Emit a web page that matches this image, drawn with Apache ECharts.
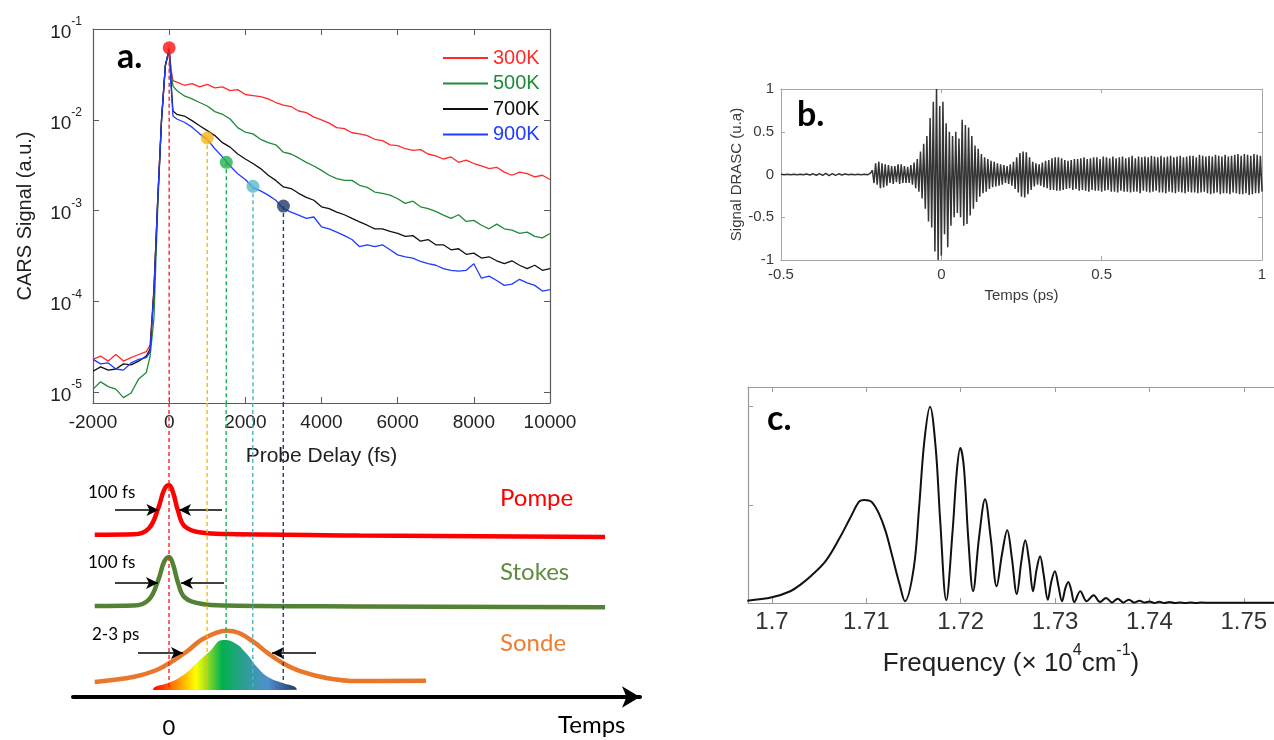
<!DOCTYPE html>
<html><head><meta charset="utf-8">
<script src="https://cdn.jsdelivr.net/npm/echarts@6/dist/echarts.min.js"></script>
<style>html,body{margin:0;padding:0;background:#fff}#c{width:1274px;height:740px}</style>
</head><body><div id="c"></div>
<script>
// ---------- Panel a : CARS signal vs probe delay ----------
const aDelay = [-2000,-1800,-1600,-1400,-1200,-1000,-800,-600,-500,-400,-300,-200,-100,0,50,100,
200,400,600,800,1000,1200,1400,1600,1800,2000,2200,2400,2600,2800,3000,3200,3400,3600,3800,4000,
4200,4400,4600,4800,5000,5200,5400,5600,5800,6000,6200,6400,6600,6800,7000,7200,7400,7600,7800,8000,
8200,8400,8600,8800,9000,9200,9400,9600,9800,10000];
const a300K = [2.3e-5,2.5e-5,2.2e-5,2.6e-5,2.2e-5,2.4e-5,2.6e-5,2.8e-5,3.3e-5,1.4e-4,1.35e-3,1.02e-2,3.9e-2,6.2e-2,3.6e-2,2.7e-2,
2.6e-2,2.4e-2,2.5e-2,2.3e-2,2.45e-2,2.25e-2,2.3e-2,2.1e-2,2.15e-2,1.9e-2,
1.85e-2,1.8e-2,1.7e-2,1.55e-2,1.45e-2,1.4e-2,1.25e-2,1.2e-2,1.07e-2,1.0e-2,
9.2e-3,8.2e-3,8.0e-3,7.2e-3,7.0e-3,6.7e-3,6.1e-3,5.9e-3,5.3e-3,5.2e-3,
4.8e-3,4.6e-3,4.7e-3,4.2e-3,4.0e-3,3.7e-3,3.9e-3,3.4e-3,3.6e-3,3.3e-3,
3.1e-3,2.9e-3,3.0e-3,2.65e-3,2.45e-3,2.65e-3,2.55e-3,2.35e-3,2.45e-3,2.2e-3];
const a500K = [1.08e-5,1.3e-5,1.15e-5,1.08e-5,8.7e-6,9.8e-6,1.4e-5,1.65e-5,2.5e-5,6.5e-5,1.1e-3,1.0e-2,3.9e-2,5.9e-2,3.4e-2,2.35e-2,
2.1e-2,1.83e-2,1.7e-2,1.55e-2,1.42e-2,1.23e-2,1.15e-2,1.02e-2,8.2e-3,7.3e-3,
7.0e-3,6.1e-3,5.6e-3,5.3e-3,4.4e-3,4.2e-3,3.8e-3,3.4e-3,3.1e-3,2.77e-3,
2.45e-3,2.25e-3,2.15e-3,2.15e-3,1.9e-3,1.8e-3,1.6e-3,1.55e-3,1.48e-3,1.35e-3,
1.2e-3,1.27e-3,1.1e-3,1.05e-3,9.8e-4,8.9e-4,8.2e-4,9.0e-4,7.6e-4,7.8e-4,
6.9e-4,6.3e-4,7.1e-4,6.3e-4,6.1e-4,5.6e-4,5.8e-4,5.2e-4,5.0e-4,5.6e-4];
const a700K = [1.7e-5,1.9e-5,1.75e-5,1.8e-5,2.05e-5,2.0e-5,2.2e-5,2.5e-5,3.0e-5,1.3e-4,1.3e-3,1.0e-2,4.0e-2,5.9e-2,2.6e-2,1.25e-2,
1.15e-2,1.1e-2,9.8e-3,8.6e-3,7.6e-3,6.7e-3,5.6e-3,5.0e-3,4.2e-3,3.7e-3,
3.3e-3,2.9e-3,2.45e-3,2.15e-3,1.82e-3,1.75e-3,1.55e-3,1.4e-3,1.3e-3,1.1e-3,
1.05e-3,9.6e-4,9.0e-4,8.2e-4,7.5e-4,6.9e-4,6.3e-4,6.3e-4,5.9e-4,5.6e-4,
5.2e-4,5.3e-4,4.6e-4,4.8e-4,4.2e-4,4.2e-4,3.7e-4,3.8e-4,3.3e-4,3.4e-4,
3.0e-4,3.1e-4,2.8e-4,2.6e-4,2.8e-4,2.5e-4,2.3e-4,2.5e-4,2.2e-4,2.3e-4];
const a900K = [2.3e-5,2.05e-5,2.1e-5,1.8e-5,1.75e-5,2.1e-5,2.3e-5,2.4e-5,2.8e-5,1.3e-4,1.35e-3,1.0e-2,4.0e-2,5.9e-2,2.35e-2,1.1e-2,
1.02e-2,9.4e-3,8.3e-3,7.0e-3,6.1e-3,4.8e-3,3.9e-3,3.1e-3,2.55e-3,2.2e-3,
1.8e-3,1.65e-3,1.48e-3,1.3e-3,1.05e-3,9.6e-4,8.9e-4,8.2e-4,8.5e-4,6.6e-4,
6.3e-4,5.8e-4,5.3e-4,4.8e-4,4.0e-4,4.2e-4,4.0e-4,4.2e-4,3.7e-4,3.25e-4,
3.1e-4,3.0e-4,2.75e-4,2.6e-4,2.5e-4,2.3e-4,2.2e-4,2.15e-4,2.2e-4,2.6e-4,
1.8e-4,1.9e-4,1.7e-4,1.5e-4,1.55e-4,1.75e-4,1.6e-4,1.5e-4,1.3e-4,1.35e-4];
const aSeriesNames = ['300K','500K','700K','900K'];
const markerDelay = [0,1000,1500,2200,3000];
const markerSignal = [6.2e-2,6.3e-3,3.4e-3,1.85e-3,1.12e-3];
const dashEnd = [0.32,0.32,0.32,0.32,0.7];

// ---------- Panel b : DRASC signal vs time ----------
const bTime = [-0.5,-0.49,-0.48,-0.47,-0.46,-0.45,-0.44,-0.43,-0.42,-0.41,-0.4,-0.39,-0.38,-0.37,-0.36,-0.35,-0.34,-0.33,-0.32,-0.31,-0.3,-0.29,-0.28,-0.27,-0.26,-0.25,-0.24,-0.23,-0.22,
-0.215,-0.21,-0.205,-0.2,-0.195,-0.19,-0.185,-0.18,-0.175,-0.17,
-0.165,-0.16,-0.155,-0.15,-0.145,-0.14,-0.135,-0.13,-0.125,-0.12,
-0.115,-0.11,-0.105,-0.1,-0.095,-0.09,-0.085,-0.08,-0.075,-0.07,
-0.065,-0.06,-0.055,-0.05,-0.045,-0.04,-0.035,-0.03,-0.025,-0.02,
-0.015,-0.01,-0.005,0,0.005,0.01,0.015,0.02,0.025,0.03,
0.035,0.04,0.045,0.05,0.055,0.06,0.065,0.07,0.075,0.08,
0.085,0.09,0.095,0.1,0.105,0.11,0.115,0.12,0.125,0.13,
0.135,0.14,0.145,0.15,0.155,0.16,0.165,0.17,0.175,0.18,
0.185,0.19,0.195,0.2,0.205,0.21,0.215,0.22,0.225,0.23,
0.235,0.24,0.245,0.25,0.255,0.26,0.265,0.27,0.275,0.28,
0.285,0.29,0.295,0.3,0.305,0.31,0.315,0.32,0.325,0.33,
0.335,0.34,0.345,0.35,0.355,0.36,0.365,0.37,0.375,0.38,
0.385,0.39,0.395,0.4,0.405,0.41,0.415,0.42,0.425,0.43,
0.435,0.44,0.445,0.45,0.455,0.46,0.465,0.47,0.475,0.48,
0.485,0.49,0.495,0.5,0.505,0.51,0.515,0.52,0.525,0.53,
0.535,0.54,0.545,0.55,0.555,0.56,0.565,0.57,0.575,0.58,
0.585,0.59,0.595,0.6,0.605,0.61,0.615,0.62,0.625,0.63,
0.635,0.64,0.645,0.65,0.655,0.66,0.665,0.67,0.675,0.68,
0.685,0.69,0.695,0.7,0.705,0.71,0.715,0.72,0.725,0.73,
0.735,0.74,0.745,0.75,0.755,0.76,0.765,0.77,0.775,0.78,
0.785,0.79,0.795,0.8,0.805,0.81,0.815,0.82,0.825,0.83,
0.835,0.84,0.845,0.85,0.855,0.86,0.865,0.87,0.875,0.88,
0.885,0.89,0.895,0.9,0.905,0.91,0.915,0.92,0.925,0.93,
0.935,0.94,0.945,0.95,0.955,0.96,0.965,0.97,0.975,0.98,
0.985,0.99,0.995,1];
const bSignal = [0.002,-0.002,0.002,-0.002,0.002,-0.002,0.003,-0.004,0.005,-0.006,0.008,-0.009,0.01,-0.011,0.012,-0.012,0.011,-0.01,0.008,-0.006,0.005,-0.004,0.003,-0.002,0.002,-0.002,0.003,-0.004,0.02,
0.05,-0.1,0.13,-0.12,0.15,-0.16,0.13,-0.15,0.12,-0.13,
0.11,-0.1,0.1,-0.11,0.1,-0.09,0.12,-0.11,0.12,-0.1,
0.1,-0.1,0.09,-0.1,0.11,-0.12,0.14,-0.16,0.18,-0.2,
0.27,-0.28,0.36,-0.4,0.45,-0.55,0.66,-0.62,0.85,-0.9,
1.0,-1.0,0.8,-0.95,0.85,-0.7,0.6,-0.85,0.5,-0.6,
0.45,-0.5,0.5,-0.45,0.42,-0.5,0.64,-0.6,0.58,-0.58,
0.55,-0.48,0.45,-0.4,0.34,-0.32,0.3,-0.26,0.24,-0.22,
0.2,-0.2,0.18,-0.17,0.16,-0.15,0.15,-0.14,0.13,-0.13,
0.12,-0.12,0.11,-0.1,0.1,-0.11,0.12,-0.13,0.15,-0.17,
0.2,-0.21,0.25,-0.26,0.27,-0.27,0.26,-0.23,0.2,-0.18,
0.15,-0.14,0.13,-0.12,0.12,-0.13,0.14,-0.15,0.16,-0.16,
0.17,-0.18,0.19,-0.18,0.2,-0.19,0.2,-0.19,0.19,-0.18,
0.17,-0.17,0.16,-0.16,0.17,-0.18,0.18,-0.17,0.18,-0.19,
0.19,-0.18,0.2,-0.19,0.18,-0.2,0.19,-0.18,0.2,-0.19,
0.2,-0.19,0.18,-0.2,0.21,-0.19,0.2,-0.18,0.19,-0.2,
0.21,-0.2,0.19,-0.21,0.2,-0.19,0.21,-0.2,0.19,-0.2,
0.2,-0.21,0.22,-0.2,0.19,-0.2,0.21,-0.22,0.2,-0.19,
0.21,-0.2,0.2,-0.21,0.22,-0.2,0.21,-0.19,0.2,-0.21,
0.22,-0.21,0.2,-0.22,0.21,-0.2,0.22,-0.21,0.2,-0.22,
0.21,-0.2,0.22,-0.21,0.2,-0.22,0.21,-0.2,0.22,-0.21,
0.22,-0.21,0.2,-0.22,0.23,-0.21,0.22,-0.2,0.21,-0.22,
0.22,-0.23,0.21,-0.22,0.23,-0.21,0.22,-0.23,0.21,-0.22,
0.23,-0.22,0.21,-0.23,0.22,-0.21,0.23,-0.22,0.24,-0.23,
0.22,-0.23,0.24,-0.22,0.23,-0.24,0.22,-0.23,0.24,-0.22,
0.23,-0.22,0.22,-0.2];

// ---------- Panel c : spectrum ----------
const cFreq = [1.69738,1.7,1.70194,1.70306,1.70419,1.70568,1.70718,1.7083,1.70923,1.70979,1.71054,1.71129,1.71204,1.71279,1.71353,1.71409,
1.71503,1.71559,1.71615,1.71675,1.71735,1.71783,1.71847,1.71914,1.71959,1.71996,1.72034,1.72082,1.72131,
1.72194,1.72258,1.72318,1.72381,1.72437,1.72493,1.72542,1.72594,1.72643,1.72684,1.72725,1.72766,
1.72804,1.72841,1.72879,1.72923,1.72961,1.72998,1.73036,1.73073,1.7311,1.7314,1.7317,1.73204,
1.73267,1.73335,1.73409,1.73477,1.7354,1.73604,1.73664,1.73723,1.73783,1.73839,1.73895,1.73948,
1.74,1.74052,1.74105,1.74157,1.74213,1.74269,1.74325,1.74381,1.74437,1.74493,1.7455,1.7465,1.7532];
const cAmp = [0.012,0.029,0.06,0.095,0.14,0.213,0.332,0.434,0.516,0.525,0.516,0.46,0.366,0.23,0.094,0.009,
0.18,0.486,0.826,1.0,0.79,0.417,0.014,0.366,0.673,0.789,0.69,0.315,0.06,
0.332,0.528,0.332,0.085,0.247,0.37,0.23,0.046,0.213,0.319,0.213,0.06,
0.17,0.238,0.145,0.017,0.111,0.162,0.085,0.009,0.077,0.107,0.068,0.005,
0.06,0.009,0.039,0.005,0.026,0.003,0.022,0.003,0.017,0.002,0.012,0.002,
0.008,0,0.007,0,0.005,0,0.003,0,0.003,0,0.002,0.001,0.001];
const cTicks = [1.7,1.71,1.72,1.73,1.74,1.75];

// ---------- Pulse diagram (time in fs, amplitude in arbitrary units) ----------
const pulseT = [-1950,-920,-525,-276,-131,0,105,236,407,840,1523,5000,11450];
const pompeA = [7.45,7.47,7.75,8.7,9.5,9.73,9.4,8.55,7.85,7.55,7.48,7.42,7.35];
const stokesA = [4.18,4.2,4.48,5.4,6.2,6.43,6.1,5.25,4.58,4.28,4.2,4.16,4.12];
const sondeT = [-1950,-911,-323,66,457,848,1234,1523,1822,2214,2605,2994,3482,4168,4947,6750];
const sondeA = [0.69,0.93,1.24,1.62,2.08,2.62,2.95,3.04,2.95,2.54,2.0,1.55,1.16,0.86,0.73,0.75];
const rainbowT = [-420,-368,-26,368,748,1050,1434,1725,2022,2311,2600,2994,3309,3360];
const rainbowA = [0.33,0.46,0.64,1.0,1.6,2.07,2.62,2.48,2.02,1.38,0.92,0.64,0.46,0.33];
const rainbowBase = 0.32;
const arrowFrom = [-1418,1392,-1418,1444,-814,3860];
const arrowTo = [-276,263,-289,315,368,2705];
const arrowLevel = [8.59,8.59,5.23,5.23,2.02,2.02];
const diagramTop = 13.5;

// ---------- styles ----------
const FA = '"Liberation Sans", Arial, sans-serif';
const FL = 'Lato, "Open Sans", sans-serif';
const aColors = ['#ff2b2b','#1f8a3a','#111111','#1f3cff'];
const markerColors = ['#ff1010','#f6b511','#22b14c','#5bb8cc','#1f3a66'];
const dashColors = ['#ff2020','#f7b81a','#19b050','#49b3c9','#1f3d6e'];
const zip = (xs, ys) => xs.map((x, i) => [x, ys[i]]);

const frameA = {lineStyle:{color:'#5c5c5c', width:1.2}};
const frameB = {lineStyle:{color:'#a6a6a6', width:1}};
const frameC = {lineStyle:{color:'#9a9a9a', width:1.2}};

const chart = echarts.init(document.getElementById('c'), null, {renderer:'canvas'});

const series = [];
aSeriesNames.forEach((n, i) => {
  series.push({type:'line', name:n, xAxisIndex:0, yAxisIndex:0, data: zip(aDelay, [a300K,a500K,a700K,a900K][i]),
    symbol:'none', lineStyle:{color:aColors[i], width:1.3}, itemStyle:{color:aColors[i]}, z:2+i*0.1});
});
markerDelay.forEach((x, i) => {
  series.push({type:'line', xAxisIndex:0, yAxisIndex:0, data:[[x, markerSignal[i]],[x, 7.6e-6]],
    symbol:'none', lineStyle:{color:dashColors[i], width:1.4, type:[4,3]}, z:4});
  series.push({type:'line', xAxisIndex:6, yAxisIndex:5, data:[[x, diagramTop],[x, dashEnd[i]]],
    symbol:'none', lineStyle:{color:dashColors[i], width:1.4, type:[4,3]}, z:6});
});
series.push({type:'scatter', xAxisIndex:0, yAxisIndex:0, symbolSize:13, z:5,
  data: markerDelay.map((x, i) => ({value:[x, markerSignal[i]], itemStyle:{color:markerColors[i]}}))});
series.push({type:'line', xAxisIndex:2, yAxisIndex:2, data: zip(bTime, bSignal), symbol:'none',
  lineStyle:{color:'#111', width:1.5, opacity:0.85}});
series.push({type:'line', xAxisIndex:4, yAxisIndex:4, data: zip(cFreq, cAmp), symbol:'none', smooth:0.35,
  lineStyle:{color:'#111', width:2}});
series.push({type:'line', xAxisIndex:6, yAxisIndex:5, data: zip(rainbowT, rainbowA), symbol:'none', smooth:0.5, z:1,
  lineStyle:{width:0}, areaStyle:{origin: rainbowBase, opacity:1,
    color: new echarts.graphic.LinearGradient(0,0,1,0,[
      {offset:0, color:'#ff0000'},{offset:0.16, color:'#ff8a00'},{offset:0.3, color:'#ffff00'},
      {offset:0.48, color:'#00b050'},{offset:0.64, color:'#2f9e95'},{offset:0.8, color:'#4f8fd0'},{offset:1, color:'#1f3868'}])}});
series.push({type:'line', xAxisIndex:6, yAxisIndex:5, data: zip(pulseT, pompeA), symbol:'none', smooth:0.4, z:3,
  lineStyle:{color:'#ff0000', width:4.5}});
series.push({type:'line', xAxisIndex:6, yAxisIndex:5, data: zip(pulseT, stokesA), symbol:'none', smooth:0.4, z:3,
  lineStyle:{color:'#548235', width:4.5}});
series.push({type:'line', xAxisIndex:6, yAxisIndex:5, data: zip(sondeT, sondeA), symbol:'none', smooth:0.4, z:3,
  lineStyle:{color:'#e8772b', width:4.5},
  markLine:{silent:true, symbol:['none','arrow'], symbolSize:[9,12], label:{show:false},
    lineStyle:{color:'#000', width:1.5, type:'solid'},
    data: arrowFrom.map((f, i) => [{coord:[f, arrowLevel[i]]},{coord:[arrowTo[i], arrowLevel[i]]}])}});

const yLogLabel = {
  margin:11, showMinLabel:false, color:'#222',
  formatter: v => '{b|10}{s|' + Math.round(Math.log10(v)) + '}',
  rich:{ b:{fontSize:19, fontFamily:FA, color:'#222', lineHeight:26, verticalAlign:'bottom'},
         s:{fontSize:12, fontFamily:FA, color:'#222', verticalAlign:'top'} }
};

const option = {
  animation:false,
  backgroundColor:'#fff',
  grid:[
    {left:93, top:29, width:457, height:374, outerBoundsMode:'none'},
    {left:781, top:89, width:481, height:171, outerBoundsMode:'none'},
    {left:748, top:387, width:526, height:216, outerBoundsMode:'none'},
    {left:73, top:403, width:567, height:294, outerBoundsMode:'none'}
  ],
  legend:{
    data: aSeriesNames.map((n, i) => ({name:n, textStyle:{color:aColors[i]}})),
    orient:'vertical', left:438, top:43, itemWidth:45, itemHeight:2, itemGap:5.5, icon:'rect',
    selectedMode:false, textStyle:{fontSize:20, fontFamily:FA}
  },
  xAxis:[
    {gridIndex:0, type:'value', min:-2000, max:10000, interval:2000, position:'bottom',
      axisLine:{onZero:false, ...frameA}, axisTick:{inside:true, length:6, lineStyle:{color:'#5c5c5c'}}, splitLine:{show:false},
      axisLabel:{fontSize:19, color:'#222', fontFamily:FA, margin:10, formatter: v => String(v)},
      name:'Probe Delay (fs)', nameLocation:'middle', nameGap:43, nameTextStyle:{fontSize:21, color:'#222', fontFamily:FA}},
    {gridIndex:0, type:'value', min:-2000, max:10000, interval:2000, position:'top',
      axisLine:{onZero:false, ...frameA}, axisTick:{inside:true, length:6, lineStyle:{color:'#5c5c5c'}}, axisLabel:{show:false}, splitLine:{show:false}},
    {gridIndex:1, type:'value', min:-0.5, max:1, interval:0.5, position:'bottom',
      axisLine:{onZero:false, ...frameB}, axisTick:{inside:true, length:4, lineStyle:{color:'#a6a6a6'}}, splitLine:{show:false},
      axisLabel:{fontSize:15, color:'#3a3a3a', fontFamily:FA, margin:7},
      name:'Temps (ps)', nameLocation:'middle', nameGap:28, nameTextStyle:{fontSize:15, color:'#3a3a3a', fontFamily:FA}},
    {gridIndex:1, type:'value', min:-0.5, max:1, interval:0.5, position:'top',
      axisLine:{onZero:false, ...frameB}, axisTick:{inside:true, length:4, lineStyle:{color:'#a6a6a6'}}, axisLabel:{show:false}, splitLine:{show:false}},
    {gridIndex:2, type:'value', min:1.69746, max:1.7532, position:'bottom',
      axisLine:{onZero:false, ...frameC}, axisTick:{inside:true, length:5, customValues:cTicks, lineStyle:{color:'#9a9a9a'}}, splitLine:{show:false},
      axisLabel:{customValues:cTicks, fontSize:24, color:'#333', fontFamily:FA, margin:7},
      name:'{t|Frequency (× 10}{s|4}{t|cm}{s|-1}{t|)}', nameLocation:'middle', nameGap:40,
      nameTextStyle:{fontSize:26, color:'#222', fontFamily:FA,
        rich:{t:{fontSize:26, fontFamily:FA, color:'#222', lineHeight:34, verticalAlign:'bottom'},
              s:{fontSize:16, fontFamily:FA, color:'#222', verticalAlign:'top'}}}},
    {gridIndex:2, type:'value', min:1.69746, max:1.7532, position:'top',
      axisLine:{onZero:false, ...frameC}, axisTick:{inside:true, length:5, customValues:cTicks, lineStyle:{color:'#9a9a9a'}},
      axisLabel:{show:false}, splitLine:{show:false}},
    {gridIndex:3, type:'value', min:-2521, max:12368, position:'bottom',
      axisLine:{onZero:false, show:true, symbol:['none','arrow'], symbolSize:[16,18], lineStyle:{color:'#000', width:4}},
      axisTick:{show:false}, splitLine:{show:false},
      axisLabel:{customValues:[0], fontSize:22, color:'#000', fontFamily:FL, margin:20}}
  ],
  yAxis:[
    {gridIndex:0, type:'log', logBase:10, min:7.6e-6, max:0.1, position:'left',
      axisLine:{onZero:false, ...frameA}, axisTick:{inside:true, length:6, lineStyle:{color:'#5c5c5c'}}, splitLine:{show:false},
      axisLabel: yLogLabel,
      name:'CARS Signal (a.u.)', nameLocation:'middle', nameGap:58, nameTextStyle:{fontSize:20, color:'#222', fontFamily:FA}},
    {gridIndex:0, type:'log', logBase:10, min:7.6e-6, max:0.1, position:'right',
      axisLine:{onZero:false, ...frameA}, axisTick:{inside:true, length:6, lineStyle:{color:'#5c5c5c'}}, axisLabel:{show:false}, splitLine:{show:false}},
    {gridIndex:1, type:'value', min:-1, max:1, interval:0.5, position:'left',
      axisLine:{onZero:false, ...frameB}, axisTick:{inside:true, length:4, lineStyle:{color:'#a6a6a6'}}, splitLine:{show:false},
      axisLabel:{fontSize:15, color:'#3a3a3a', fontFamily:FA, margin:7},
      name:'Signal DRASC (u.a)', nameLocation:'middle', nameGap:33, nameTextStyle:{fontSize:15, color:'#3a3a3a', fontFamily:FA}},
    {gridIndex:1, type:'value', min:-1, max:1, interval:0.5, position:'right',
      axisLine:{onZero:false, ...frameB}, axisTick:{inside:true, length:4, lineStyle:{color:'#a6a6a6'}}, axisLabel:{show:false}, splitLine:{show:false}},
    {gridIndex:2, type:'value', min:0, max:1.1, position:'left',
      axisLine:{onZero:false, ...frameC}, axisTick:{inside:true, length:5, customValues:[0.5,1], lineStyle:{color:'#9a9a9a'}},
      axisLabel:{show:false}, splitLine:{show:false}},
    {gridIndex:3, type:'value', min:0, max:diagramTop, show:false}
  ],
  graphic:[
    {type:'text', x:117, y:57, style:{text:'a.', font:'bold 34px Lato', fill:'#000', verticalAlign:'middle'}},
    {type:'text', x:797, y:115, style:{text:'b.', font:'bold 34px Lato', fill:'#000', verticalAlign:'middle'}},
    {type:'text', x:767, y:419, style:{text:'c.', font:'bold 34px Lato', fill:'#000', verticalAlign:'middle'}},
    {type:'text', x:88, y:493, style:{text:'100 fs', font:'17px Lato', fill:'#000', verticalAlign:'middle'}},
    {type:'text', x:88, y:563, style:{text:'100 fs', font:'17px Lato', fill:'#000', verticalAlign:'middle'}},
    {type:'text', x:92, y:635, style:{text:'2-3 ps', font:'17px Lato', fill:'#000', verticalAlign:'middle'}},
    {type:'text', x:500, y:498, style:{text:'Pompe', font:'24px Lato', fill:'#ff0000', verticalAlign:'middle'}},
    {type:'text', x:500, y:572, style:{text:'Stokes', font:'24px Lato', fill:'#5e8c3d', verticalAlign:'middle'}},
    {type:'text', x:500, y:643, style:{text:'Sonde', font:'24px Lato', fill:'#ee7d30', verticalAlign:'middle'}},
    {type:'text', x:558, y:725, style:{text:'Temps', font:'24px Lato', fill:'#000', verticalAlign:'middle'}}
  ],
  series: series
};
chart.setOption(option);
</script></body></html>
